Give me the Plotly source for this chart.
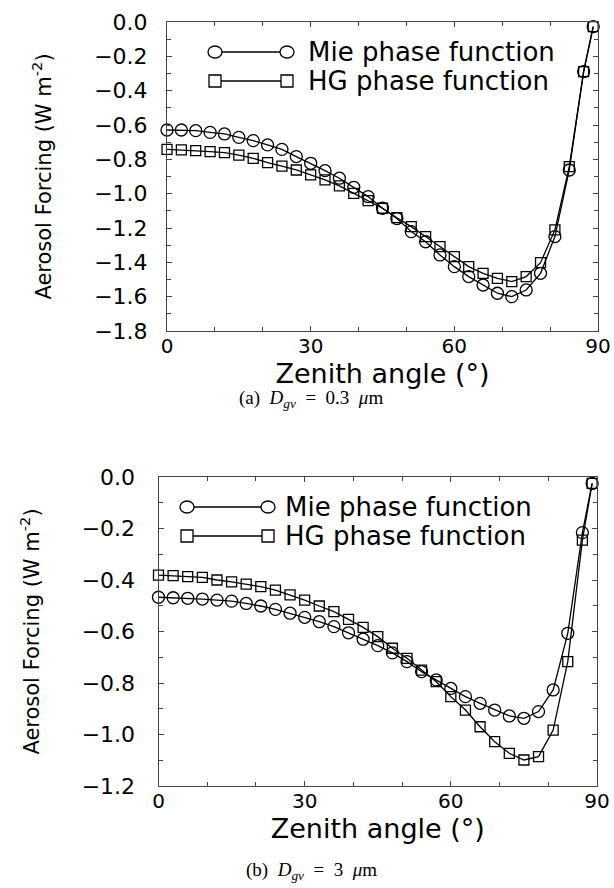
import plotly.graph_objects as go

# ---------------- data ----------------
angles = [0, 3, 6, 9, 12, 15, 18, 21, 24, 27, 30, 33, 36, 39, 42, 45,
          48, 51, 54, 57, 60, 63, 66, 69, 72, 75, 78, 81, 84, 87, 89]

mie_a = [-0.629, -0.629, -0.633, -0.643, -0.652, -0.672, -0.691, -0.716,
         -0.742, -0.784, -0.823, -0.866, -0.910, -0.963, -1.017, -1.085,
         -1.145, -1.221, -1.280, -1.357, -1.425, -1.483, -1.532, -1.580,
         -1.600, -1.561, -1.464, -1.250, -0.862, -0.289, -0.027]
hg_a = [-0.742, -0.745, -0.749, -0.755, -0.761, -0.775, -0.794, -0.819,
        -0.839, -0.862, -0.891, -0.920, -0.955, -0.998, -1.041, -1.085,
        -1.140, -1.192, -1.250, -1.309, -1.367, -1.425, -1.464, -1.493,
        -1.512, -1.483, -1.402, -1.211, -0.843, -0.289, -0.027]

mie_b = [-0.467, -0.469, -0.471, -0.474, -0.478, -0.482, -0.491, -0.501,
         -0.514, -0.529, -0.545, -0.562, -0.581, -0.605, -0.630, -0.655,
         -0.683, -0.717, -0.756, -0.788, -0.821, -0.853, -0.879, -0.905,
         -0.928, -0.937, -0.911, -0.827, -0.607, -0.216, -0.025]
hg_b = [-0.381, -0.383, -0.387, -0.390, -0.400, -0.407, -0.416, -0.426,
        -0.439, -0.458, -0.478, -0.501, -0.523, -0.553, -0.584, -0.620,
        -0.665, -0.704, -0.750, -0.795, -0.853, -0.905, -0.970, -1.028,
        -1.073, -1.099, -1.086, -0.983, -0.717, -0.245, -0.025]

series_names = ["Mie phase function", "HG phase function"]
x_ticks = [0, 30, 60, 90]
captions = ["(a)&nbsp; <i>D<sub>gv</sub></i>&nbsp; =&nbsp; 0.3&nbsp; <i>μ</i>m",
            "(b)&nbsp; <i>D<sub>gv</sub></i>&nbsp; =&nbsp; 3&nbsp; <i>μ</i>m"]

# ---------------- figure ----------------
W, H = 614, 888
FONT = "DejaVu Sans"

fig = go.Figure()

def add_pair(mie, hg, xa, ya):
    fig.add_trace(go.Scatter(
        x=angles, y=mie, name=series_names[0], xaxis=xa, yaxis=ya,
        mode="lines+markers", cliponaxis=False, showlegend=False,
        line=dict(color="black", width=1.3),
        marker=dict(symbol="circle-open", size=12, color="black",
                    line=dict(width=1.3, color="black"))))
    fig.add_trace(go.Scatter(
        x=angles, y=hg, name=series_names[1], xaxis=xa, yaxis=ya,
        mode="lines+markers", cliponaxis=False, showlegend=False,
        line=dict(color="black", width=1.3),
        marker=dict(symbol="square-open", size=10, color="black",
                    line=dict(width=1.3, color="black"))))

add_pair(mie_a, hg_a, "x", "y")
add_pair(mie_b, hg_b, "x2", "y2")

def xaxis_cfg(domain, anchor):
    return dict(domain=domain, anchor=anchor, range=[0, 90], automargin=False,
                tickvals=x_ticks, ticks="inside", ticklen=5, tickwidth=1,
                tickcolor="#444", ticklabelstandoff=-3,
                minor=dict(dtick=10, tick0=0, ticks="inside", ticklen=4,
                           tickcolor="#444"),
                showline=True, linecolor="#444", linewidth=1, mirror="ticks",
                showgrid=False, zeroline=False,
                tickfont=dict(family=FONT, size=20, color="black"),
                title=dict(text="Zenith angle (°)", standoff=0,
                           font=dict(family=FONT, size=27, color="black")))

def yaxis_cfg(domain, anchor, rng, lab_off):
    return dict(domain=domain, anchor=anchor, range=rng, automargin=False,
                dtick=0.2, tick0=0, tickformat=".1f",
                ticks="inside", ticklen=5, tickwidth=1, tickcolor="#444",
                minor=dict(dtick=0.1, tick0=0, ticks="inside", ticklen=4,
                           tickcolor="#444"),
                showline=True, linecolor="#444", linewidth=1, mirror="ticks",
                showgrid=False, zeroline=False, ticklabelstandoff=lab_off,
                tickfont=dict(family=FONT, size=22, color="black"),
                title=dict(text="Aerosol Forcing (W m<sup>-2</sup>)", standoff=36,
                           font=dict(family=FONT, size=21, color="black")))

fig.update_layout(
    template="none",
    width=W, height=H, autosize=False,
    margin=dict(l=0, r=0, t=0, b=0, pad=0),
    paper_bgcolor="white", plot_bgcolor="white",
    showlegend=False,
    xaxis=xaxis_cfg([167 / W, 598 / W], "y"),
    yaxis=yaxis_cfg([1 - 331 / H, 1 - 22 / H], "x", [-1.8, 0], 14),
    xaxis2=xaxis_cfg([158.5 / W, 597 / W], "y2"),
    yaxis2=yaxis_cfg([1 - 786 / H, 1 - 477 / H], "x2", [-1.2, 0], 18),
)

# ---- custom legend keys (marker — line — marker) ----
shapes = []
annotations = []

def legend_row(x0, x1, yp, symbol, text_x, label):
    yy = 1 - yp / H
    shapes.append(dict(type="line", xref="paper", yref="paper",
                       x0=x0 / W, x1=x1 / W, y0=yy, y1=yy,
                       line=dict(color="black", width=1.3)))
    for xc in (x0, x1):
        if symbol == "circle":
            hw, hh = 7, 6
        else:
            hw, hh = 6, 6
        shapes.append(dict(type=symbol, xref="paper", yref="paper",
                           xsizemode="pixel", ysizemode="pixel",
                           xanchor=xc / W, yanchor=yy,
                           x0=-hw, x1=hw, y0=-hh, y1=hh,
                           fillcolor="white",
                           line=dict(color="black", width=1.3)))
    annotations.append(dict(xref="paper", yref="paper", x=text_x / W, y=yy,
                            xanchor="left", yanchor="middle", showarrow=False,
                            text=label,
                            font=dict(family=FONT, size=26, color="black")))

legend_row(215, 287, 52, "circle", 306, series_names[0])
legend_row(215, 287, 81, "rect", 306, series_names[1])
legend_row(187, 268, 507, "circle", 283, series_names[0])
legend_row(187, 268, 536, "rect", 283, series_names[1])

for cap, yp in zip(captions, [399, 871]):
    annotations.append(dict(xref="paper", yref="paper", x=311 / W, y=1 - yp / H,
                            xanchor="center", yanchor="middle", showarrow=False,
                            text=cap,
                            font=dict(family="Liberation Serif", size=19,
                                      color="black")))

fig.update_layout(shapes=shapes, annotations=annotations)

fig.write_html("out.html", config={"displayModeBar": False},
               post_script="document.body.style.margin='0';")
